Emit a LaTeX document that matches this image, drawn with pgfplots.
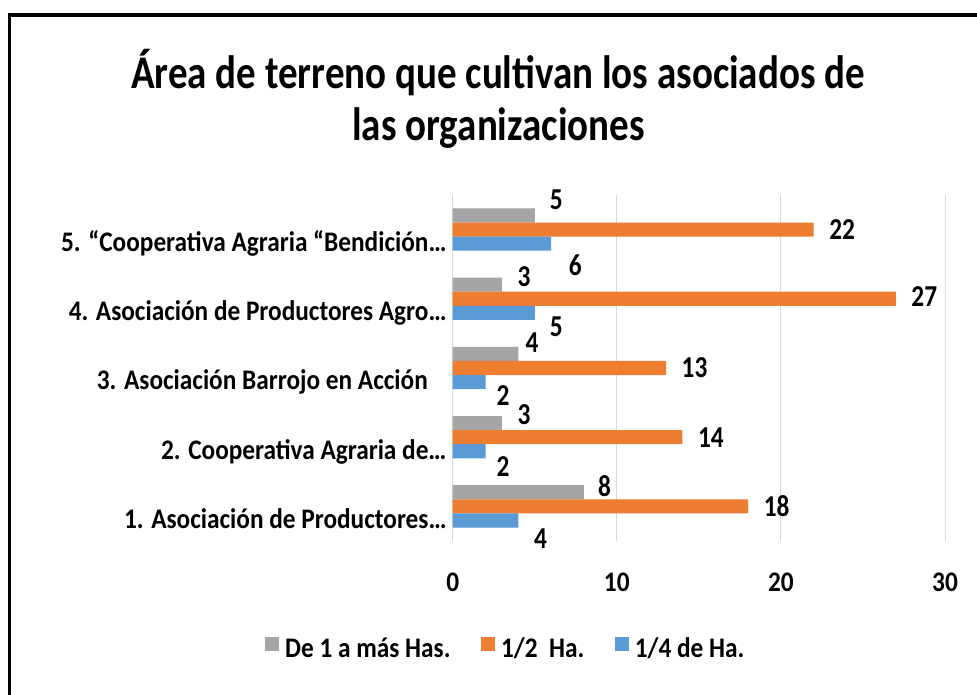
\documentclass[border=0pt]{standalone}
\usepackage{fontspec}
\setmainfont{Carlito}
\usepackage{graphicx}
\usepackage{pgfplots}
\pgfplotsset{compat=1.18}
\usepackage{pgfplotstable}
\newcommand{\vs}[1]{\scalebox{1}[1.12]{#1}}
\newcommand{\vt}[1]{\scalebox{1}[1.2]{#1}}
\definecolor{cgray}{HTML}{A5A5A5}
\definecolor{corange}{HTML}{ED7D31}
\definecolor{cblue}{HTML}{5B9BD5}
\definecolor{cgrid}{HTML}{D9D9D9}

% dx, dy: offsets of each value label (pt) from the bar end at the category centre
\pgfplotstableread{
y x dx dy
1 8 14 20
2 3 15.5 23
3 4 7 25
4 3 15.5 22
5 5 15 30
}\graytab
\pgfplotstableread{
y x dx dy
1 18 15.5 0
2 14 15.5 0
3 13 15.5 0
4 27 15.5 2
5 22 15.5 0
}\orangetab
\pgfplotstableread{
y x dx dy
1 4 15.5 -32
2 2 11 -29
3 2 11 -28
4 5 15 -28
5 6 17.5 -36
}\bluetab

\begin{document}
\begin{tikzpicture}[x=1pt,y=1pt]
\useasboundingbox (0,0) rectangle (977,695);
\fill[white] (0,0) rectangle (977,695);
\draw[line width=3.5pt] (9.7,-20) -- (9.7,680) -- (1000,680);
\node[font=\fontsize{39}{47}\selectfont\bfseries, anchor=base, inner sep=0pt] at (498,606) {\vt{Área de terreno que cultivan los asociados de}};
\node[font=\fontsize{39}{47}\selectfont\bfseries, anchor=base, inner sep=0pt] at (498.5,554) {\vt{las organizaciones}};
\begin{axis}[
  at={(452.7pt,154pt)}, anchor=south west,
  scale only axis, width=492.3pt, height=346pt,
  xmin=0, xmax=30, ymin=0.5, ymax=5.5,
  clip=false,
  axis line style={draw=none},
  major tick length=0pt,
  xtick={0,10,20,30},
  xticklabels={\vs{0},\vs{10},\vs{20},\vs{30}},
  xticklabel style={anchor=north, inner sep=0pt, yshift=-32pt, font=\fontsize{25.3}{30}\selectfont\bfseries},
  xmajorgrids, grid style={cgrid, line width=1pt},
  ytick={1,2,3,4,5},
  yticklabels={
    \vs{1. Asociación de Productores…},
    \vs{2. Cooperativa Agraria de…},
    \vs{3. Asociación Barrojo en Acción\hspace*{18.7pt}},
    \vs{4. Asociación de Productores Agro…},
    \vs{5. “Cooperativa Agraria “Bendición…}},
  yticklabel style={anchor=base east, inner sep=0pt, xshift=-6pt, yshift=-22pt, font=\fontsize{25.3}{30}\selectfont\bfseries},
  /pgf/number format/assume math mode=true,
  legend columns=3,
  legend style={at={(-0.3813,-0.309)}, anchor=west, draw=none, fill=none, inner sep=0pt,
    font=\fontsize{25.3}{30}\selectfont\bfseries,
    nodes={inner sep=0pt},
    column sep=6pt,
    /tikz/every even column/.append style={column sep=30.6pt}},
  legend image code/.code={\fill[#1] (0pt,-2.9pt) rectangle (14pt,11.1pt);},
  every node near coord/.append style={font=\fontsize{25.3}{30}\selectfont\bfseries, text=black},
]
\addplot[xbar, bar width=14.1pt, bar shift=14.1pt, fill=cgray, draw=none,
  point meta=x, nodes near coords={\vt{\pgfmathprintnumber\pgfplotspointmeta}},
  visualization depends on={\thisrow{dx} \as \dx},
  visualization depends on={\thisrow{dy} \as \dy},
  every node near coord/.append style={anchor=west, inner sep=0pt, xshift=\dx pt, yshift=\dy pt}]
  table[x=x, y=y] {\graytab};
\addlegendentry{\vs{De 1 a más Has.}}
\addplot[xbar, bar width=14.1pt, bar shift=0pt, fill=corange, draw=none,
  point meta=x, nodes near coords={\vt{\pgfmathprintnumber\pgfplotspointmeta}},
  visualization depends on={\thisrow{dx} \as \dx},
  visualization depends on={\thisrow{dy} \as \dy},
  every node near coord/.append style={anchor=west, inner sep=0pt, xshift=\dx pt, yshift=\dy pt}]
  table[x=x, y=y] {\orangetab};
\addlegendentry{\vs{1/2\ \ Ha.}}
\addplot[xbar, bar width=14.1pt, bar shift=-14.1pt, fill=cblue, draw=none,
  point meta=x, nodes near coords={\vt{\pgfmathprintnumber\pgfplotspointmeta}},
  visualization depends on={\thisrow{dx} \as \dx},
  visualization depends on={\thisrow{dy} \as \dy},
  every node near coord/.append style={anchor=west, inner sep=0pt, xshift=\dx pt, yshift=\dy pt}]
  table[x=x, y=y] {\bluetab};
\addlegendentry{\vs{1/4 de Ha.}}
\end{axis}
\end{tikzpicture}
\end{document}
